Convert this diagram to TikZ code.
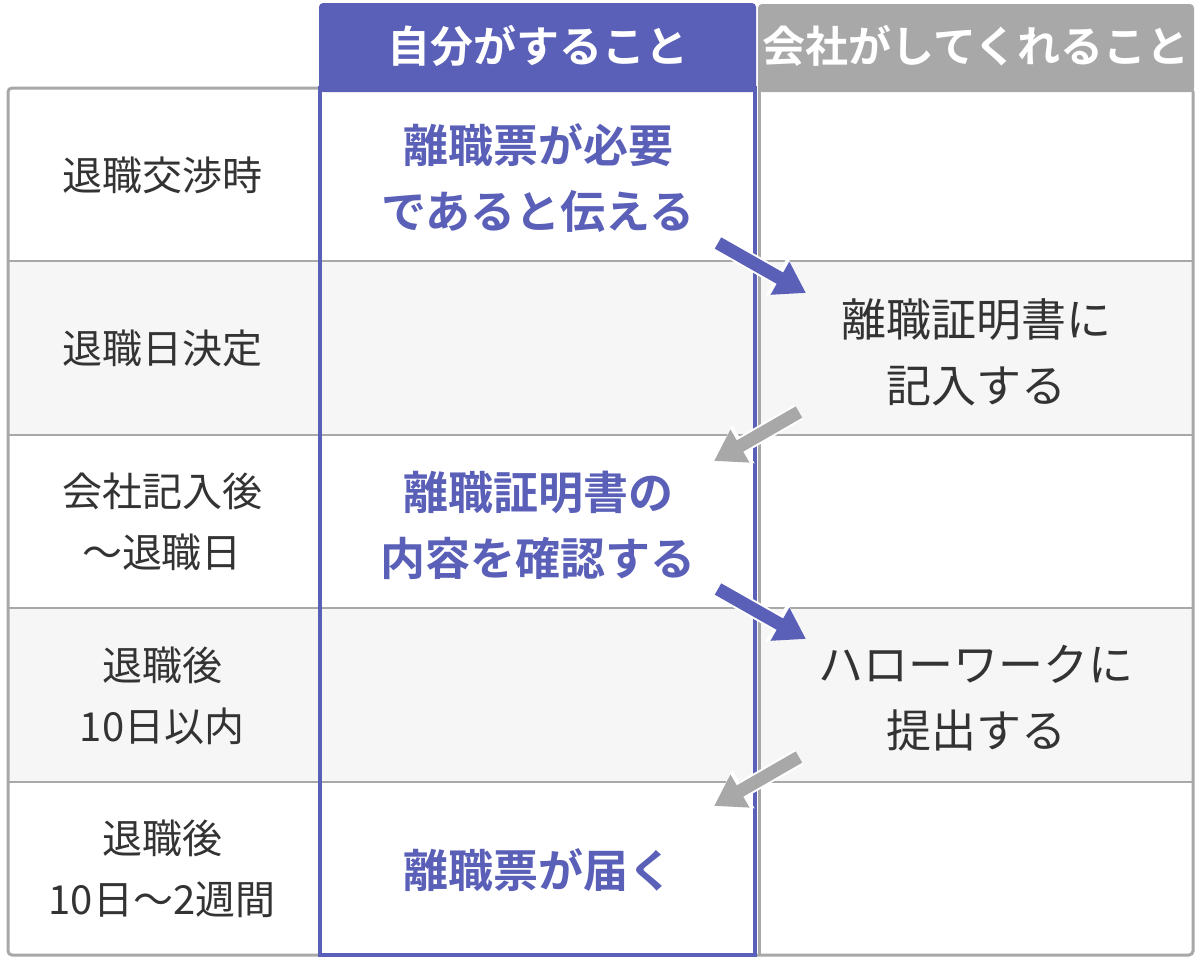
\documentclass[tikz,border=0pt]{standalone}
\usepackage{fontspec}
\setmainfont{Noto Sans CJK JP}
\newfontfamily\jpb{Noto Sans CJK JP Bold}
\usetikzlibrary{arrows.meta}
\definecolor{bl}{HTML}{5A5FB8}
\definecolor{gr}{HTML}{A8A8A8}
\definecolor{rowg}{HTML}{F6F6F6}
\definecolor{tx}{HTML}{333333}
\tikzset{
 lab/.style={font=\fontsize{40}{61}\selectfont, text=tx, align=center},
 mine/.style={font=\jpb\fontsize{45}{66}\selectfont, text=bl, align=center},
 comp/.style={font=\fontsize{45}{66}\selectfont, text=tx, align=center},
 hdr/.style={font=\jpb\fontsize{43}{50}\selectfont, text=white},
 arr/.style={line width=13pt, -{Triangle[length=30pt,width=36pt]}, preaction={draw=white,line width=17pt,-{Triangle[length=34pt,width=42pt]}}}
}
\begin{document}
\begin{tikzpicture}[x=1pt,y=-1pt]
\useasboundingbox (0,0) rectangle (1200,961);
\fill[white] (0,0) rectangle (1200,961);
% rows
\fill[rowg] (8,261) rectangle (1193,435);
\fill[rowg] (8,608) rectangle (1193,782);
\foreach \y in {261,435,608,782} \draw[gr,line width=2pt] (8,\y) -- (1193,\y);
% outer border
\draw[gr,line width=3pt,rounded corners=4pt] (320,88) -- (8,88) -- (8,955) -- (1193,955) -- (1193,88) -- (758,88);
\draw[gr,line width=3pt] (759,88) -- (759,955);
% headers
\fill[gr,rounded corners=4pt] (758,4) rectangle (1194,92);
\fill[gr] (758,60) rectangle (1194,88);
\fill[bl,rounded corners=4pt] (319,3) rectangle (756,92);
\fill[bl] (319,60) rectangle (756,88);
\draw[bl,line width=3.5pt] (320,88) rectangle (755,955);
\node[hdr] (h1) at (538,46) {自分がすること};
\node[hdr] (h2) at (976,46) {会社がしてくれること};
% left labels
\node[lab] (l1) at (162,175) {退職交渉時};
\node[lab] (l2) at (162,348) {退職日決定};
\node[lab] (l3) at (162,522) {会社記入後\\～退職日};
\node[lab] (l4) at (162,696) {退職後\\10日以内};
\node[lab] (l5) at (162,869) {退職後\\10日～2週間};
% mine
\node[mine] (m1) at (538,178) {離職票が必要\\であると伝える};
\node[mine] (m2) at (538,525) {離職証明書の\\内容を確認する};
\node[mine] (m3) at (538,870) {離職票が届く};
% company
\node[comp] (c1) at (976,352) {離職証明書に\\記入する};
\node[comp] (c2) at (976,698) {ハローワークに\\提出する};
% arrows
\coordinate (a1) at (718,243); \coordinate (b1) at (806,293);
\coordinate (a2) at (799,412); \coordinate (b2) at (714,461);
\coordinate (a3) at (718,589); \coordinate (b3) at (806,639);
\coordinate (a4) at (799,757); \coordinate (b4) at (714,806);
\draw[arr,bl] (a1) -- (b1);
\draw[arr,gr] (a2) -- (b2);
\draw[arr,bl] (a3) -- (b3);
\draw[arr,gr] (a4) -- (b4);
\end{tikzpicture}
\end{document}
